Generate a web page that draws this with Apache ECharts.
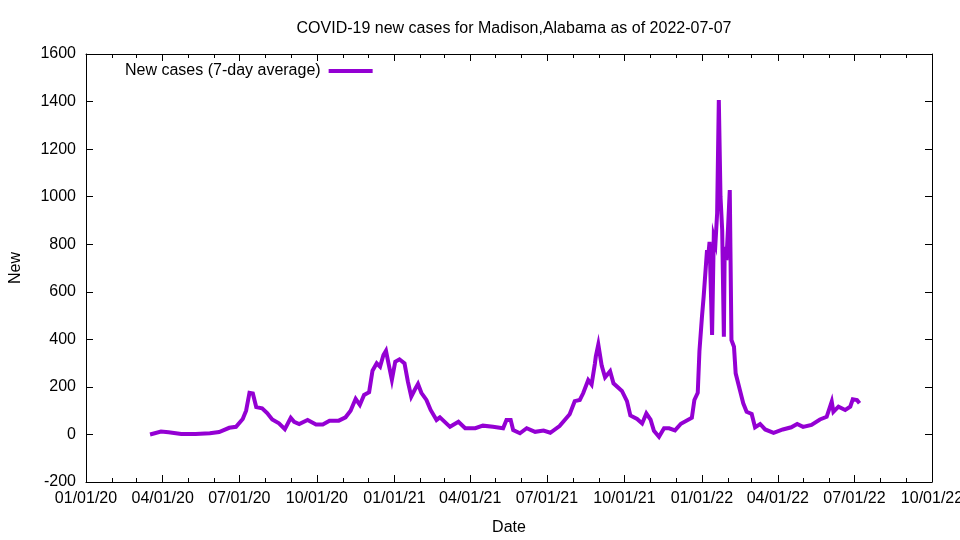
<!DOCTYPE html>
<html>
<head>
<meta charset="utf-8">
<script src="https://cdn.jsdelivr.net/npm/echarts@6/dist/echarts.min.js"></script>
<style>
html, body { margin: 0; padding: 0; background: #fff; }
#main { width: 960px; height: 540px; }
</style>
</head>
<body>
<div id="main"></div>
<script>
// 7-day average of new cases
const dates = [
    '2020-03-17', '2020-03-30', '2020-04-08', '2020-04-23', '2020-05-10', '2020-05-27', '2020-06-07',
    '2020-06-19', '2020-06-27', '2020-07-05', '2020-07-09', '2020-07-13', '2020-07-17', '2020-07-21',
    '2020-07-28', '2020-08-03', '2020-08-09', '2020-08-17', '2020-08-24', '2020-08-31', '2020-09-04',
    '2020-09-10', '2020-09-20', '2020-09-30', '2020-10-08', '2020-10-16', '2020-10-27', '2020-11-04',
    '2020-11-10', '2020-11-16', '2020-11-21', '2020-11-26', '2020-12-02', '2020-12-06', '2020-12-11',
    '2020-12-15', '2020-12-19', '2020-12-22', '2020-12-25', '2020-12-29', '2021-01-02', '2021-01-07',
    '2021-01-13', '2021-01-17', '2021-01-21', '2021-01-25', '2021-01-29', '2021-02-02', '2021-02-08',
    '2021-02-13', '2021-02-20', '2021-02-24', '2021-03-08', '2021-03-18', '2021-03-26', '2021-04-07',
    '2021-04-16', '2021-04-28', '2021-05-10', '2021-05-14', '2021-05-19', '2021-05-22', '2021-05-30',
    '2021-06-07', '2021-06-17', '2021-06-27', '2021-07-05', '2021-07-16', '2021-07-28', '2021-08-03',
    '2021-08-09', '2021-08-13', '2021-08-19', '2021-08-23', '2021-08-27', '2021-08-28', '2021-08-31',
    '2021-09-04', '2021-09-08', '2021-09-14', '2021-09-18', '2021-09-28', '2021-10-04', '2021-10-08',
    '2021-10-16', '2021-10-22', '2021-10-27', '2021-11-01', '2021-11-05', '2021-11-11', '2021-11-17',
    '2021-11-23', '2021-11-30', '2021-12-07', '2021-12-20', '2021-12-23', '2021-12-27', '2021-12-29',
    '2022-01-01', '2022-01-03', '2022-01-07', '2022-01-08', '2022-01-10', '2022-01-12', '2022-01-13',
    '2022-01-15', '2022-01-17', '2022-01-19', '2022-01-21', '2022-01-23', '2022-01-25', '2022-01-27',
    '2022-01-28', '2022-01-30', '2022-02-01', '2022-02-03', '2022-02-05', '2022-02-08', '2022-02-10',
    '2022-02-15', '2022-02-19', '2022-02-23', '2022-03-01', '2022-03-05', '2022-03-11', '2022-03-17',
    '2022-03-27', '2022-04-07', '2022-04-17', '2022-04-24', '2022-05-01', '2022-05-11', '2022-05-21',
    '2022-05-29', '2022-06-04', '2022-06-06', '2022-06-12', '2022-06-20', '2022-06-26', '2022-06-29',
    '2022-07-04', '2022-07-07'
];
const newCases = [
    0, 12, 9, 2, 2, 5, 10,
    28, 32, 65, 100, 175, 172, 115,
    110, 90, 63, 47, 22, 70, 53,
    44, 61, 42, 42, 58, 58, 72,
    100, 150, 124, 166, 178, 268, 299,
    285, 334, 352, 299, 230, 306, 316,
    299, 222, 159, 187, 212, 175, 145,
    103, 61, 72, 32, 53, 26, 26,
    37, 32, 26, 61, 61, 18, 5,
    26, 11, 16, 7, 35, 85, 140,
    145, 173, 229, 210, 299, 327, 378,
    290, 240, 266, 215, 183, 140, 80,
    65, 46, 88, 62, 15, -10, 26,
    26, 17, 45, 70, 145, 175, 350,
    495, 579, 775, 733, 810, 817, 418,
    831, 804, 930, 1406, 1000, 859, 411,
    789, 733, 873, 1028, 397, 369, 257,
    187, 131, 95, 86, 30, 44, 21,
    7, 21, 30, 44, 32, 40, 63,
    74, 138, 95, 117, 103, 117, 148,
    145, 131
];
const quarterTicks = [
    '2020-01-01', '2020-04-01', '2020-07-01', '2020-10-01',
    '2021-01-01', '2021-04-01', '2021-07-01', '2021-10-01',
    '2022-01-01', '2022-04-01', '2022-07-01', '2022-10-01'
];
const xMin = '2020-01-01';
const xMax = '2022-10-01';
const yMin = -200;
const yMax = 1600;
const yStep = 200;

function toTime(s) {
    let p = s.split('-').map(Number);
    return new Date(p[0], p[1] - 1, p[2]).getTime();
}
function fmt(v) {
    let d = new Date(v);
    let mm = String(d.getMonth() + 1).padStart(2, '0');
    let dd = String(d.getDate()).padStart(2, '0');
    let yy = String(d.getFullYear() % 100).padStart(2, '0');
    return mm + '/' + dd + '/' + yy;
}

// monthly minor tick positions
let monthTicks = [];
for (let d = new Date(2020, 0, 1); d.getTime() <= toTime(xMax); d.setMonth(d.getMonth() + 1)) {
    monthTicks.push(d.getTime());
}
let majorTicks = quarterTicks.map(toTime);

const font = 'Liberation Sans, Arial, sans-serif';
const black = '#000';
const fs = 16;
const gridBox = { left: 86, right: 28, top: 54, bottom: 58, outerBoundsMode: 'none', containLabel: false };

// x axis is a plain value axis in milliseconds, ticks placed on month starts
function xAxisFor(grid, pos, major) {
    return {
        type: 'value',
        gridIndex: grid,
        position: pos,
        min: toTime(xMin),
        max: toTime(xMax),
        axisLine: { show: major, onZero: false, lineStyle: { color: black, width: 1 } },
        axisTick: {
            show: true, inside: true, length: major ? 7 : 4,
            customValues: major ? majorTicks : monthTicks,
            lineStyle: { color: black, width: 1 }
        },
        axisLabel: { show: false },
        splitLine: { show: false }
    };
}

let bottomAxis = xAxisFor(0, 'bottom', true);
bottomAxis.axisLabel = {
    show: true, customValues: majorTicks, formatter: fmt, margin: 9,
    color: black, fontSize: fs, fontFamily: font
};
bottomAxis.name = 'Date';
bottomAxis.nameLocation = 'middle';
bottomAxis.nameGap = 38;
bottomAxis.nameTextStyle = { color: black, fontSize: fs, fontFamily: font };

let option = {
    animation: false,
    backgroundColor: '#fff',
    title: {
        text: 'COVID-19 new cases for Madison,Alabama as of 2022-07-07',
        left: 509,
        textAlign: 'center',
        top: 16,
        textStyle: { color: black, fontSize: fs, fontWeight: 'normal', fontFamily: font }
    },
    legend: {
        data: ['New cases (7-day average)'],
        left: 120,
        top: 58,
        align: 'right',
        icon: 'rect',
        itemWidth: 44,
        itemHeight: 4,
        textStyle: { color: black, fontSize: fs, fontFamily: font, padding: [0, 3, 0, 0] }
    },
    grid: [Object.assign({}, gridBox), Object.assign({}, gridBox)],
    xAxis: [
        bottomAxis,
        xAxisFor(0, 'top', true),
        xAxisFor(1, 'bottom', false),
        xAxisFor(1, 'top', false)
    ],
    yAxis: [
        {
            type: 'value', gridIndex: 0, position: 'left',
            min: yMin, max: yMax, interval: yStep,
            name: 'New', nameLocation: 'middle', nameGap: 62,
            nameTextStyle: { color: black, fontSize: fs, fontFamily: font },
            axisLine: { show: true, onZero: false, lineStyle: { color: black } },
            axisTick: { show: true, inside: true, length: 7, lineStyle: { color: black } },
            axisLabel: { color: black, fontSize: fs, fontFamily: font, margin: 10, formatter: v => String(v) },
            splitLine: { show: false }
        },
        {
            type: 'value', gridIndex: 0, position: 'right',
            min: yMin, max: yMax, interval: yStep,
            axisLine: { show: true, onZero: false, lineStyle: { color: black } },
            axisTick: { show: true, inside: true, length: 7, lineStyle: { color: black } },
            axisLabel: { show: false },
            splitLine: { show: false }
        },
        { type: 'value', gridIndex: 1, min: 0, max: 1, show: false }
    ],
    series: [{
        name: 'New cases (7-day average)',
        type: 'line',
        xAxisIndex: 0,
        yAxisIndex: 0,
        showSymbol: false,
        symbol: 'none',
        color: '#9400D3',
        lineStyle: { color: '#9400D3', width: 4, join: 'miter' },
        data: dates.map((d, i) => [toTime(d), newCases[i]])
    }]
};

echarts.init(document.getElementById('main')).setOption(option);
</script>
</body>
</html>
